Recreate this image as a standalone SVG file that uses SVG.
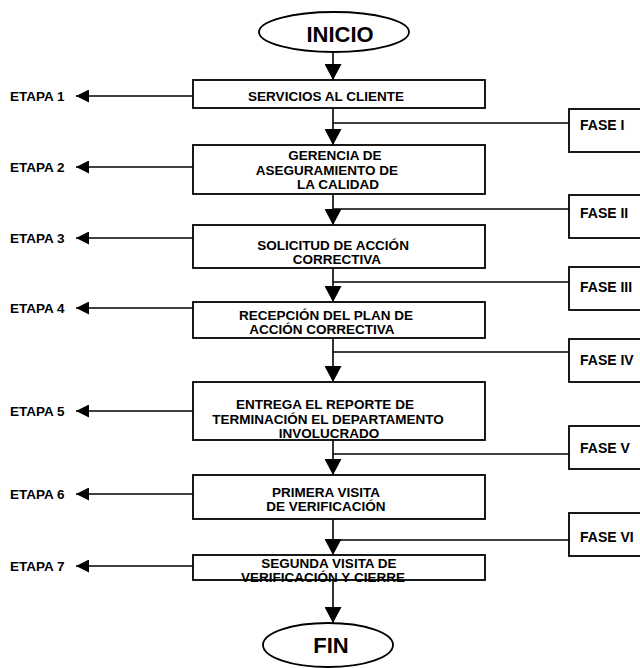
<svg xmlns="http://www.w3.org/2000/svg" width="640" height="668" viewBox="0 0 640 668">
<style>
.bx{fill:#fff;stroke:#000;stroke-width:1.8}
.t{font-family:"Liberation Sans",Arial,sans-serif;font-weight:bold;font-size:13.5px;fill:#000}
.c{text-anchor:middle}
.big{font-size:22px}
.fs{font-size:14px}
.ln{stroke:#000;stroke-width:1.6;fill:none}
</style>
<defs>
<marker id="ad" viewBox="0 0 16 17" refX="16" refY="8.5" markerWidth="16" markerHeight="17" orient="auto" markerUnits="userSpaceOnUse"><path d="M0,0 L16,8.5 L0,17 z" fill="#000"/></marker>
<marker id="al" viewBox="0 0 13 13" refX="13" refY="6.5" markerWidth="13" markerHeight="13" orient="auto" markerUnits="userSpaceOnUse"><path d="M0,0 L13,6.5 L0,13 z" fill="#000"/></marker>
</defs>
<rect width="640" height="668" fill="#fff"/>
<g id="connectors">
<line class="ln" x1="333" y1="52" x2="333" y2="80" marker-end="url(#ad)"/>
<line class="ln" x1="333" y1="108" x2="333" y2="145" marker-end="url(#ad)"/>
<line class="ln" x1="333" y1="194" x2="333" y2="225" marker-end="url(#ad)"/>
<line class="ln" x1="333" y1="268" x2="333" y2="302" marker-end="url(#ad)"/>
<line class="ln" x1="333" y1="338" x2="333" y2="382" marker-end="url(#ad)"/>
<line class="ln" x1="333" y1="440" x2="333" y2="475" marker-end="url(#ad)"/>
<line class="ln" x1="333" y1="519" x2="333" y2="555" marker-end="url(#ad)"/>
<line class="ln" x1="333" y1="580" x2="333" y2="623" marker-end="url(#ad)"/>
<line class="ln" x1="333" y1="123" x2="569" y2="123"/>
<line class="ln" x1="333" y1="209" x2="569" y2="209"/>
<line class="ln" x1="333" y1="282" x2="569" y2="282"/>
<line class="ln" x1="333" y1="352" x2="569" y2="352"/>
<line class="ln" x1="333" y1="454" x2="569" y2="454"/>
<line class="ln" x1="333" y1="540" x2="569" y2="540"/>
<line class="ln" x1="193" y1="96" x2="76" y2="96" marker-end="url(#al)"/>
<line class="ln" x1="193" y1="167" x2="76" y2="167" marker-end="url(#al)"/>
<line class="ln" x1="193" y1="238" x2="76" y2="238" marker-end="url(#al)"/>
<line class="ln" x1="193" y1="308" x2="76" y2="308" marker-end="url(#al)"/>
<line class="ln" x1="193" y1="411" x2="76" y2="411" marker-end="url(#al)"/>
<line class="ln" x1="193" y1="494" x2="76" y2="494" marker-end="url(#al)"/>
<line class="ln" x1="193" y1="566" x2="76" y2="566" marker-end="url(#al)"/>
</g>
<g id="inicio">
<ellipse cx="334" cy="32" rx="75" ry="20" class="bx"/>
<text x="340" y="42" class="t c big">INICIO</text>
</g>
<g id="box1">
<rect x="193" y="80" width="292" height="28" class="bx"/>
<text x="326" y="101" class="t c">SERVICIOS AL CLIENTE</text>
</g>
<g id="box2">
<rect x="193" y="145" width="292" height="49" class="bx"/>
<text x="335" y="160" class="t c">GERENCIA DE</text>
<text x="327" y="175" class="t c">ASEGURAMIENTO DE</text>
<text x="338" y="189" class="t c">LA CALIDAD</text>
</g>
<g id="box3">
<rect x="193" y="225" width="292" height="43" class="bx"/>
<text x="333" y="250" class="t c">SOLICITUD DE ACCIÓN</text>
<text x="337" y="264" class="t c">CORRECTIVA</text>
</g>
<g id="box4">
<rect x="193" y="302" width="292" height="36" class="bx"/>
<text x="326" y="320" class="t c">RECEPCIÓN DEL PLAN DE</text>
<text x="322" y="334" class="t c">ACCIÓN CORRECTIVA</text>
</g>
<g id="box5">
<rect x="193" y="382" width="292" height="58" class="bx"/>
<text x="325" y="409" class="t c">ENTREGA EL REPORTE DE</text>
<text x="328" y="424" class="t c">TERMINACIÓN EL DEPARTAMENTO</text>
<text x="329" y="438" class="t c">INVOLUCRADO</text>
</g>
<g id="box6">
<rect x="193" y="475" width="292" height="44" class="bx"/>
<text x="326" y="497" class="t c">PRIMERA VISITA</text>
<text x="326" y="511" class="t c">DE VERIFICACIÓN</text>
</g>
<g id="box7">
<rect x="193" y="555" width="292" height="25" class="bx"/>
<text x="329" y="568" class="t c">SEGUNDA VISITA DE</text>
<text x="323" y="582" class="t c">VERIFICACIÓN Y CIERRE</text>
</g>
<g id="fin">
<ellipse cx="328" cy="645" rx="65" ry="22" class="bx"/>
<text x="331" y="653" class="t c big">FIN</text>
</g>
<g id="fase1"><rect x="569" y="109" width="80" height="43" class="bx"/><text x="580" y="130" class="t fs">FASE I</text></g>
<g id="fase2"><rect x="569" y="195" width="80" height="43" class="bx"/><text x="580" y="218" class="t fs">FASE II</text></g>
<g id="fase3"><rect x="569" y="267" width="80" height="43" class="bx"/><text x="580" y="292" class="t fs">FASE III</text></g>
<g id="fase4"><rect x="569" y="339" width="80" height="43" class="bx"/><text x="580" y="365" class="t fs">FASE IV</text></g>
<g id="fase5"><rect x="569" y="426" width="80" height="43" class="bx"/><text x="580" y="453" class="t fs">FASE V</text></g>
<g id="fase6"><rect x="569" y="513" width="80" height="43" class="bx"/><text x="580" y="542" class="t fs">FASE VI</text></g>
<g id="etapas">
<text x="10" y="101" class="t">ETAPA 1</text>
<text x="10" y="172" class="t">ETAPA 2</text>
<text x="10" y="243" class="t">ETAPA 3</text>
<text x="10" y="313" class="t">ETAPA 4</text>
<text x="10" y="416" class="t">ETAPA 5</text>
<text x="10" y="499" class="t">ETAPA 6</text>
<text x="10" y="571" class="t">ETAPA 7</text>
</g>
</svg>
